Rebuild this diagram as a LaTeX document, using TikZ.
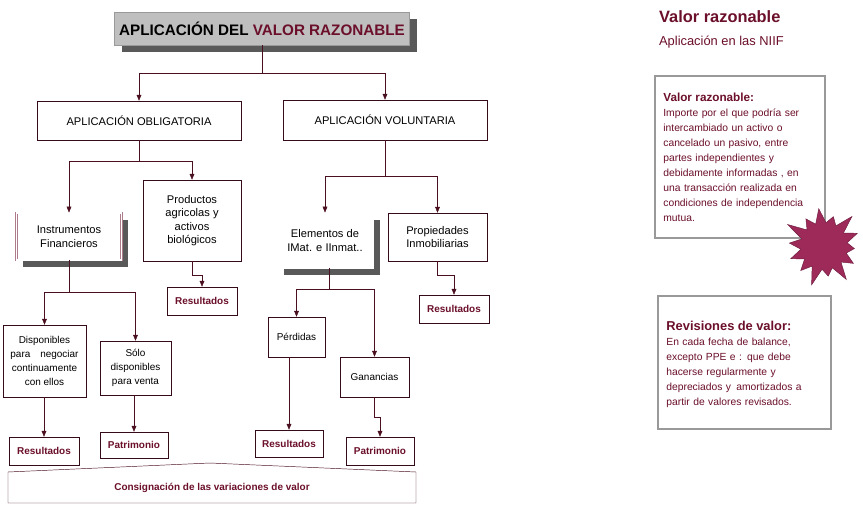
\documentclass[tikz,border=0pt]{standalone}
\usepackage{fontspec}
\setmainfont{Liberation Sans}
\usetikzlibrary{arrows.meta,calc,shapes.symbols}
\definecolor{vino}{HTML}{6B0F2A}
\definecolor{linea}{HTML}{4A1020}
\definecolor{estrella}{HTML}{9E2A5A}
\tikzstyle{caja}=[draw=linea!70!black,fill=white,inner sep=2pt,align=center,font=\fontsize{9.5}{11.5}\selectfont]
\tikzstyle{sombra}=[caja,double=white,draw=vino!55,double distance=1pt,line width=0.7pt]
\tikzstyle{res}=[caja,font=\fontsize{8.5}{10}\selectfont\bfseries,text=vino]
\tikzstyle{arr}=[draw=linea,-{Triangle[length=5pt,width=4pt]}]
\tikzstyle{nota}=[draw=black!40,line width=2pt,fill=white,align=left,anchor=north west,inner sep=7pt,font=\fontsize{8.8}{12.8}\selectfont,text=vino]

\begin{document}
\begin{tikzpicture}[x=0.03cm,y=-0.03cm]
  \useasboundingbox (0,0) rectangle (863,505);
  % title
  \fill[black!65] (122,19) rectangle (417,52);
  \node[caja,fill=black!25,draw=black!40,minimum width=8.85cm,minimum height=0.99cm,font=\fontsize{13}{15}\selectfont\bfseries] (title) at (262,28.5) {APLICACIÓN DEL \textcolor{vino}{VALOR RAZONABLE}};

  \node[caja,minimum width=6.12cm,minimum height=1.17cm] (oblig) at (139,120.5) {APLICACIÓN OBLIGATORIA};
  \node[caja,minimum width=6.12cm,minimum height=1.2cm] (vol) at (385,120) {APLICACIÓN VOLUNTARIA};

  % second level
  \fill[black!65] (23,220) rectangle (128,267);
  \node[sombra,minimum width=3.15cm,minimum height=1.41cm] (instr) at (69,236.5) {Instrumentos\\Financieros};
  \node[caja,minimum width=2.94cm,minimum height=2.43cm] (prod) at (192,220.5) {Productos\\agricolas y\\activos\\biológicos};
  \fill[black!65] (284,220) rectangle (380,275);
  \node[sombra,minimum width=2.88cm,minimum height=1.65cm] (elem) at (325,240.5) {Elementos de\\IMat. e IInmat..};
  \node[caja,minimum width=2.97cm,minimum height=1.44cm] (prop) at (437.5,237) {Propiedades\\Inmobiliarias};

  \node[res,minimum width=2.1cm,minimum height=0.84cm] (resP) at (202,301) {Resultados};
  \node[res,minimum width=2.1cm,minimum height=0.84cm] (resV) at (454,309) {Resultados};

  % third level
  \node[caja,minimum width=2.49cm,minimum height=2.16cm,font=\fontsize{8.5}{12}\selectfont] (disp) at (44.5,361) {Disponibles\\para\quad negociar\\continuamente\\con ellos};
  \node[caja,minimum width=2.13cm,minimum height=1.62cm,font=\fontsize{8.5}{12}\selectfont] (solo) at (135.5,368) {Sólo\\disponibles\\para venta};
  \node[caja,minimum width=1.71cm,minimum height=1.2cm,font=\fontsize{8.5}{12}\selectfont] (perd) at (296.5,337) {Pérdidas};
  \node[caja,minimum width=2.07cm,minimum height=1.2cm,font=\fontsize{8.5}{12}\selectfont] (gan) at (374.5,377) {Ganancias};

  \node[res,minimum width=2.1cm,minimum height=0.84cm] (res1) at (44,451) {Resultados};
  \node[res,minimum width=2.04cm,minimum height=0.78cm] (pat1) at (134,445) {Patrimonio};
  \node[res,minimum width=2.04cm,minimum height=0.81cm] (res2) at (289,443.5) {Resultados};
  \node[res,minimum width=2.04cm,minimum height=0.84cm] (pat2) at (380,451) {Patrimonio};

  % bottom roof box
  \draw[linea,fill=white] (8,503) -- (8,472) -- (210,463) -- (416,472) -- (416,503) -- cycle;
  \node[font=\fontsize{8.5}{10}\selectfont\bfseries,text=vino] (consig) at (212,488) {Consignación de las variaciones de valor};

  % connectors
  \coordinate (j1) at (262,73);
  \draw[linea] (title.south) -- (j1);
  \draw[arr] (j1) -| (oblig.north);
  \draw[arr] (j1) -| (vol.north);
  \coordinate (j2) at (139,161);
  \draw[linea] (oblig.south) -- (j2);
  \draw[arr] (j2) -| (instr.north);
  \draw[arr] (j2) -| (prod.north);
  \coordinate (j3) at (385,176);
  \draw[linea] (vol.south) -- (j3);
  \draw[arr] (j3) -| (elem.north);
  \draw[arr] (j3) -| (prop.north);
  \draw[arr] (prod.south) -- ++(0,14) -| (resP.north);
  \draw[arr] (prop.south) -- ++(0,14) -| (resV.north);
  \coordinate (j4) at (69,292);
  \draw[linea] (instr.south) -- (j4);
  \draw[arr] (j4) -| (disp.north);
  \draw[arr] (j4) -| (solo.north);
  \coordinate (j5) at (329,289);
  \draw[linea] (j5 |- elem.south) -- (j5);
  \draw[arr] (j5) -| (perd.north);
  \draw[arr] (j5) -| (gan.north);
  \draw[arr] (res1.north |- disp.south) -- (res1.north);
  \draw[arr] (pat1.north |- solo.south) -- (pat1.north);
  \draw[arr] (res2.north |- perd.south) -- (res2.north);
  \draw[arr] (gan.south) -- ++(0,20) -| (pat2.north);

  % right side
  \node[anchor=west,text=vino,font=\fontsize{14}{16}\selectfont\bfseries] (rtit) at (655,17) {Valor razonable};
  \node[anchor=west,text=vino,font=\fontsize{11}{13}\selectfont] (rsub) at (655,42) {Aplicación en las NIIF};
  \node[nota,text width=4.6cm,minimum height=4.86cm] (def) at (654,75) {{\fontsize{10}{12}\selectfont\bfseries Valor razonable:}\\Importe por el que podría ser\\intercambiado un activo o\\cancelado un pasivo, entre\\partes independientes y\\debidamente informadas , en\\una transacción realizada en\\condiciones de independencia\\mutua.};
  \node[starburst,starburst points=14,starburst point height=0.6cm,minimum size=2.6cm,fill=estrella,draw=estrella!70!black,rotate=8] (star) at (824,246) {};
  \node[nota,text width=4.7cm,minimum height=3.99cm] (rev) at (657,295) {\\[-2pt]{\fontsize{11}{13}\selectfont\bfseries Revisiones de valor:}\\En cada fecha de balance,\\excepto PPE e : que debe\\hacerse regularmente y\\depreciados y\, amortizados a\\partir de valores revisados.};
\end{tikzpicture}
\end{document}
